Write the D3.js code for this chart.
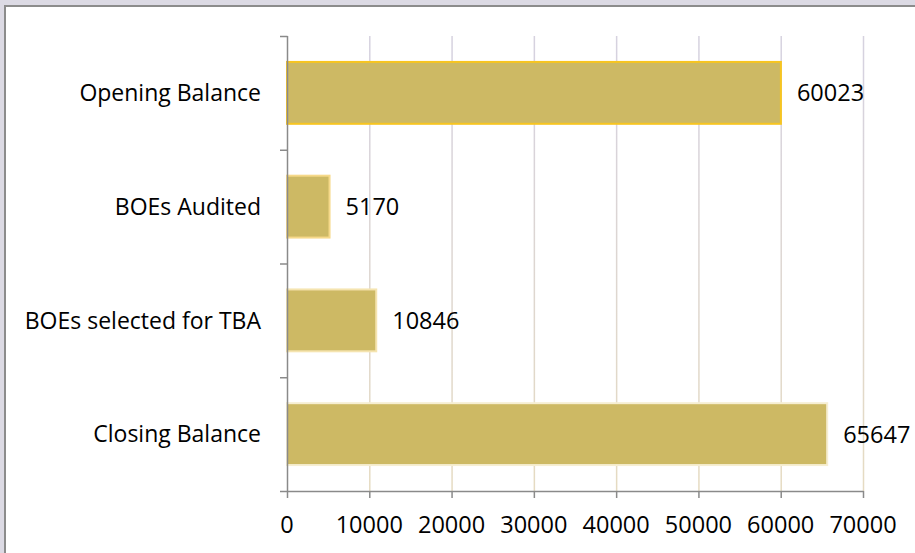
<!DOCTYPE html>
<html>
<head>
<meta charset="utf-8">
<script src="https://cdn.jsdelivr.net/npm/d3@7"></script>
<style>
  html, body { margin: 0; padding: 0; background: #dcdae4; }
  svg { display: block; font-family: "Open Sans", sans-serif; }
</style>
</head>
<body>
<svg id="chart" width="915" height="553"></svg>
<script>
// Chart data
const categories = ["Opening Balance", "BOEs Audited", "BOEs selected for TBA", "Closing Balance"];
const values = [60023, 5170, 10846, 65647];
const xTicks = [0, 10000, 20000, 30000, 40000, 50000, 60000, 70000];

const width = 915, height = 553;
const margin = { top: 36, right: 52, bottom: 62, left: 287 };
const innerWidth = width - margin.left - margin.right;
const innerHeight = height - margin.top - margin.bottom;

const svg = d3.select("#chart");

/*************************/
/*  Frame and gradients  */
/*************************/
svg.append("rect")
  .attr("x", 5).attr("y", 6)
  .attr("width", width - 5).attr("height", height - 6)
  .attr("fill", "#ffffff");

// left and top frame edges only (right/bottom run off the canvas)
svg.append("path")
  .attr("d", `M5,${height}V6H${width}`)
  .attr("fill", "none")
  .attr("stroke", "#8c8c8c")
  .attr("stroke-width", 2);

const defs = svg.append("defs");

const gridGrad = defs.append("linearGradient")
  .attr("id", "grid-grad")
  .attr("gradientUnits", "userSpaceOnUse")
  .attr("x1", 0).attr("y1", margin.top)
  .attr("x2", 0).attr("y2", margin.top + innerHeight);
gridGrad.append("stop").attr("offset", "0%").attr("stop-color", "#d6d2df");
gridGrad.append("stop").attr("offset", "100%").attr("stop-color", "#e7dcbf");

const barStroke = ["#f7c520", "#f6d98a", "#f5e4b0", "#f6eed2"];

const g = svg.append("g")
  .attr("transform", `translate(${margin.left},${margin.top})`);

/************/
/*  Scales  */
/************/
const xScale = d3.scaleLinear()
  .domain([0, 70000])
  .range([0, innerWidth]);

const yScale = d3.scaleBand()
  .domain(categories)
  .range([0, innerHeight])
  .paddingInner(0.456)
  .paddingOuter(0.228);

/***************/
/*  Gridlines  */
/***************/
g.append("g")
  .selectAll("line")
  .data(xTicks.slice(1))
  .join("line")
    .attr("x1", d => xScale(d) + 0.5)
    .attr("x2", d => xScale(d) + 0.5)
    .attr("y1", 0)
    .attr("y2", innerHeight)
    .attr("stroke", "url(#grid-grad)")
    .attr("stroke-width", 1.5);

/**********/
/*  Bars  */
/**********/
g.append("g")
  .selectAll("rect")
  .data(values)
  .join("rect")
    .attr("x", 0)
    .attr("y", (d, i) => yScale(categories[i]))
    .attr("width", d => xScale(d))
    .attr("height", yScale.bandwidth())
    .attr("fill", "#cdb964")
    .attr("stroke", (d, i) => barStroke[i])
    .attr("stroke-width", 2);

g.append("g")
  .selectAll("text")
  .data(values)
  .join("text")
    .attr("x", d => xScale(d) + 16)
    .attr("y", (d, i) => yScale(categories[i]) + yScale.bandwidth() / 2)
    .attr("dy", "0.36em")
    .attr("font-size", 23.5)
    .attr("fill", "#000")
    .text(d => d);

/**********/
/*  Axes  */
/**********/
const axisColor = "#8a8a8a";

// y axis: line, boundary ticks and category labels
const yAxis = g.append("g");
yAxis.append("line")
  .attr("x1", 0.5).attr("x2", 0.5)
  .attr("y1", 0).attr("y2", innerHeight)
  .attr("stroke", axisColor).attr("stroke-width", 1.5);

const boundaries = d3.range(categories.length + 1).map(i => i * yScale.step());
yAxis.selectAll(".ytick")
  .data(boundaries)
  .join("line")
    .attr("class", "ytick")
    .attr("x1", -7).attr("x2", 0.5)
    .attr("y1", d => d + 0.5).attr("y2", d => d + 0.5)
    .attr("stroke", axisColor).attr("stroke-width", 1.5);

yAxis.selectAll(".ylabel")
  .data(categories)
  .join("text")
    .attr("class", "ylabel")
    .attr("x", -26)
    .attr("y", d => yScale(d) + yScale.bandwidth() / 2)
    .attr("dy", "0.36em")
    .attr("text-anchor", "end")
    .attr("font-size", 23)
    .attr("fill", "#000")
    .text(d => d);

// x axis
const xAxis = g.append("g")
  .attr("transform", `translate(0,${innerHeight})`);
xAxis.append("line")
  .attr("x1", 0).attr("x2", innerWidth + 0.5)
  .attr("y1", 0.5).attr("y2", 0.5)
  .attr("stroke", axisColor).attr("stroke-width", 1.5);

xAxis.selectAll(".xtick")
  .data(xTicks)
  .join("line")
    .attr("class", "xtick")
    .attr("x1", d => xScale(d) + 0.5).attr("x2", d => xScale(d) + 0.5)
    .attr("y1", 0).attr("y2", 7)
    .attr("stroke", axisColor).attr("stroke-width", 1.5);

xAxis.selectAll(".xlabel")
  .data(xTicks)
  .join("text")
    .attr("class", "xlabel")
    .attr("x", d => xScale(d))
    .attr("y", 42)
    .attr("text-anchor", "middle")
    .attr("font-size", 23.5)
    .attr("fill", "#000")
    .text(d => d);
</script>
</body>
</html>
